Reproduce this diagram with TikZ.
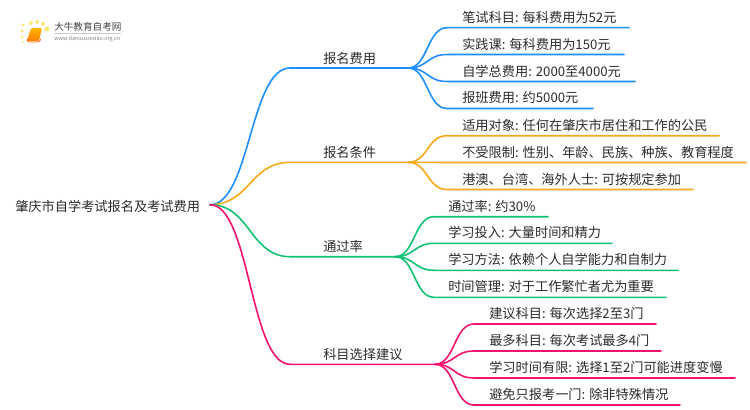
\documentclass[tikz,border=0pt]{standalone}
\usepackage{fontspec}
\setmainfont{Noto Sans CJK SC}
\definecolor{feeblue}{HTML}{1E8FFF}
\definecolor{condorange}{HTML}{F7A81B}
\definecolor{passgreen}{HTML}{0FC272}
\definecolor{subjpink}{HTML}{F5126F}
\definecolor{inktext}{HTML}{2B2B2B}
\tikzset{
  linkline/.style={line width=1.2pt,line cap=round},
  leaftext/.style={anchor=west,inner sep=0pt,font=\fontsize{9.9pt}{11pt}\selectfont,text=inktext},
}
\begin{document}
\begin{tikzpicture}[x=0.75pt,y=-0.75pt]
    \useasboundingbox (0,0) rectangle (750,410);
    % logo
    \foreach \x/\y/\r in {23/25/1.3,31/23/1.5,37/22/1.5,43/24/1.5,47/29/1.9,22/31/1.2,22/37/1,23/42/.8}
        \fill [yellow!70!orange,opacity=.55] (\x,\y) circle (\r pt);
    \shade [top color=orange!60!yellow,bottom color=orange,rounded corners=1pt] (31,28) -- (42,28) -- (39,41) -- (27,41) -- cycle;
    \draw [orange!70!red,line width=.6pt,rounded corners=1pt] (41,39) -- (39,42) -- (28,42) -- (27,39);
    \node [inner sep=0pt,anchor=west,text=black!75,font=\fontsize{7.2pt}{8pt}\selectfont] (logotitle) at (54,27) {大牛教育自考网};
    \node [inner sep=0pt,anchor=west,text=black!50,font=\fontsize{4.1pt}{5pt}\selectfont] (logourl) at (54,38.7) {www.daniuxuexiao.org.cn};
    \draw [black!20,line width=.4pt] (54,33) -- (121,33);
    % root
    \node [leaftext] (root) at (15,206) {肇庆市自学考试报名及考试费用};
    \coordinate (R) at (210,204.7);
    % branches
    \foreach \name/\col/\y/\fork/\lab in {A/feeblue/68/408/报名费用,B/condorange/162.3/408/报名条件,C/passgreen/256.7/395/通过率,D/subjpink/364.3/435/科目选择建议} {
        \coordinate (\name) at (290,\y);
        \coordinate (\name f) at (\fork,\y);
        \node [leaftext] (\name t) at (323,\y-10) {\lab};
        \draw [linkline,\col] (R) .. controls +(40,0) and +(-40,0) .. (\name) -- (\name f);
    }
    % leaves of each branch
    \foreach \n/\y/\e/\lab in {1/27.7/629/笔试科目: 每科费用为52元,2/54.5/624/实践课: 每科费用为150元,3/81.5/635/自学总费用: 2000至4000元,4/108.5/593/报班费用: 约5000元} {
        \coordinate (A\n) at (447,\y);
        \coordinate (A\n e) at (\e,\y);
        \node [leaftext] (A\n t) at (462,\y-10.5) {\lab};
        \draw [linkline,feeblue] (Af) .. controls +(20,0) and +(-20,0) .. (A\n) -- (A\n e);
    }
    \foreach \n/\y/\e/\lab in {1/135.7/719/适用对象: 任何在肇庆市居住和工作的公民,2/162.5/746/不受限制: 性别、年龄、民族、种族、教育程度,3/189.5/693/港澳、台湾、海外人士: 可按规定参加} {
        \coordinate (B\n) at (447,\y);
        \coordinate (B\n e) at (\e,\y);
        \node [leaftext] (B\n t) at (462,\y-10.5) {\lab};
        \draw [linkline,condorange] (Bf) .. controls +(20,0) and +(-20,0) .. (B\n) -- (B\n e);
    }
    \foreach \n/\y/\e/\lab in {1/216.7/548/通过率: 约30\%,2/243.3/612/学习投入: 大量时间和精力,3/270.3/678/学习方法: 依赖个人自学能力和自制力,4/297.3/666/时间管理: 对于工作繁忙者尤为重要} {
        \coordinate (C\n) at (434,\y);
        \coordinate (C\n e) at (\e,\y);
        \node [leaftext] (C\n t) at (448,\y-10.5) {\lab};
        \draw [linkline,passgreen] (Cf) .. controls +(20,0) and +(-20,0) .. (C\n) -- (C\n e);
    }
    \foreach \n/\y/\e/\lab in {1/324/656/建议科目: 每次选择2至3门,2/351/661/最多科目: 每次考试最多4门,3/378/735/学习时间有限: 选择1至2门可能进度变慢,4/405/680/避免只报考一门: 除非特殊情况} {
        \coordinate (D\n) at (474,\y);
        \coordinate (D\n e) at (\e,\y);
        \node [leaftext] (D\n t) at (489,\y-10.5) {\lab};
        \draw [linkline,subjpink] (Df) .. controls +(20,0) and +(-20,0) .. (D\n) -- (D\n e);
    }
\end{tikzpicture}
\end{document}
